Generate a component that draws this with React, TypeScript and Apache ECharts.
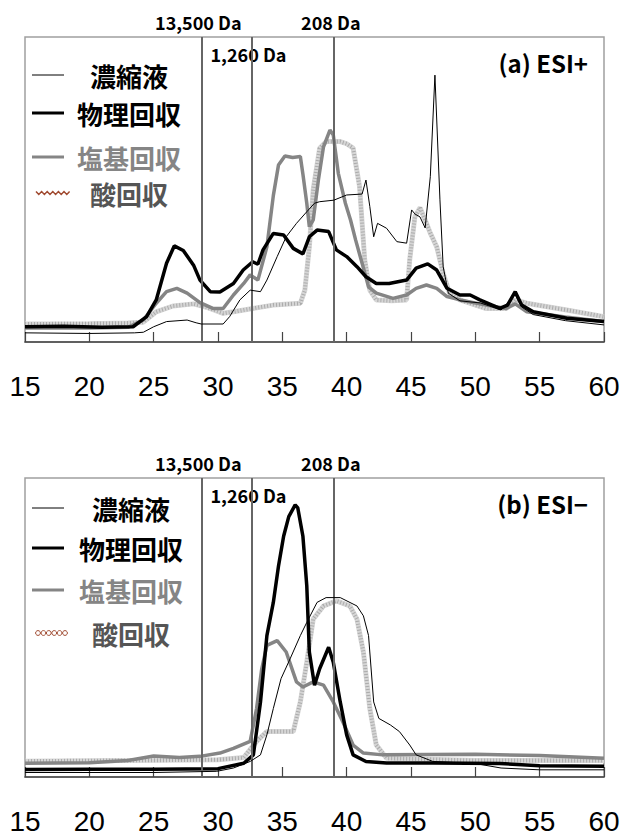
import React, { useEffect, useRef } from "react";
import * as echarts from "echarts";

const xMin = 15;
const xMax = 60;
const xStep = 5;

const seriesNames = ["濃縮液", "物理回収", "塩基回収", "酸回収"];
const panelTitles = ["(a) ESI+", "(b) ESI−"];
const markerXs = [28.7, 32.6, 39.0];
const markerLabels = ["13,500 Da", "1,260 Da", "208 Da"];

// ---- Panel (a) ESI+ ----
const topConc = [[15,3],[20,2.8],[23.5,3],[24.2,3.2],[25,5],[26,6.7],[27.6,7.2],[28.3,6.3],[28.7,5.9],[30.4,5.9],[30.9,8.3],[31.7,13.8],[32.5,17],[33.3,16.5],[33.8,20.3],[34.6,28],[35.3,34.5],[36.1,38.9],[36.9,42.7],[37.5,45.5],[37.9,46],[39,46.5],[40,48.2],[41.2,48.5],[41.5,53.1],[41.8,44.4],[42.1,34.5],[42.4,38.9],[43.1,37.3],[43.9,32.9],[44.66,32.4],[45.05,43.3],[45.3,42],[45.7,41],[46.1,37.4],[46.5,54.2],[46.86,87.5],[47.25,46.6],[47.5,24.7],[47.9,16],[48.8,13.5],[50.4,12.8],[52,10.5],[53.1,15.5],[53.6,11.5],[54.5,9],[57,7],[60,5.6]];
const topPhys = [[15,5],[18,5.2],[21,4.8],[23.4,5],[24.45,8.3],[25.2,13.8],[26,25.8],[26.6,31.5],[27.3,30],[28.1,25.2],[28.6,20.3],[29.4,16.5],[30.15,16.4],[31.2,19.2],[31.96,23.6],[32.7,26.3],[33.1,25.5],[33.5,30.2],[34.3,35.6],[35.1,35.1],[35.85,30.7],[36.6,28.9],[37.1,34.5],[37.7,36.7],[38.6,36.2],[39.2,30.2],[40,28],[40.8,24.7],[41.5,21.4],[42.3,19.2],[43.3,19.2],[44.66,20.3],[45.4,24.2],[46.3,25.6],[47,23.6],[47.8,17.6],[48.8,15.4],[49.6,15.4],[50.35,13.8],[51.9,11],[52.5,12.1],[53.1,16.5],[53.6,12.1],[54.5,9.9],[57.1,7.8],[60,6.7]];
const topBase = [[15,4.6],[20,4.6],[23,4.8],[24.2,7.2],[25.2,12.7],[26,16.5],[26.8,17.6],[27.6,16],[28.6,12.9],[29.6,11],[30.4,11],[31.2,15.4],[32,19.2],[32.5,22],[33.1,20.3],[33.8,31.2],[34.3,48],[34.7,58],[35.2,61],[35.8,60.5],[36.4,60.8],[36.6,55],[36.9,45.5],[37.1,37.8],[37.4,40],[37.8,53],[38.2,64],[38.7,69.5],[38.96,67.9],[39.35,55.3],[39.9,45.5],[40.3,40],[40.7,33.4],[41.2,25.8],[41.7,18.1],[42.3,16],[43.6,14.3],[44.66,15.4],[45.4,17.6],[46.2,18.7],[47,17.6],[47.8,14.9],[48.8,13.8],[50.85,12.1],[52.4,11],[53.1,12.5],[54,9.9],[57,8.2],[60,6.7]];
const topAcid = [[15,5.9],[20,6],[23,6.2],[24.2,6.5],[25.2,9.9],[26.5,11.8],[28.1,12.5],[29.1,11.4],[30.4,9.4],[31.2,9.9],[32.7,11],[34.3,12.1],[36.4,12.7],[36.75,17],[37.1,31.2],[37.4,50],[37.9,63.5],[38.4,65.7],[39.5,65.7],[40,65],[40.5,63.6],[41,51],[41.4,27],[41.8,17],[42.3,13.8],[43.5,13.5],[44.66,13.8],[44.9,27],[45.3,41],[45.7,44],[46.1,40],[46.5,35.7],[47,31.2],[47.5,22.5],[48,16],[48.8,13.8],[50.8,11],[52.4,11],[53.1,13.8],[54,12.7],[57.1,10.5],[60,8.3]];

// ---- Panel (b) ESI- ----
const botConc = [[15,1.5],[25,1.5],[29.9,1.9],[31.2,3],[32.5,5.2],[33.3,7.4],[33.8,14.1],[34.3,22.9],[34.9,32.9],[35.6,39.5],[36.4,47.3],[36.9,51.7],[37.7,58.4],[38.4,60],[39.5,60],[40.8,57.2],[41.3,53.9],[41.7,47.3],[42.1,25.1],[42.5,19.6],[43.4,17.4],[44.1,15.2],[44.9,10.7],[45.4,7.4],[46.7,5.2],[50,4.5],[52,3],[55,2.4],[60,2.4]];
const botPhys = [[15,2.5],[20,2.6],[25,2.6],[30,2.8],[32,4.6],[32.75,7.4],[33.3,25],[33.8,47.3],[34.3,58.4],[34.7,70.5],[35.1,80.5],[35.5,87.1],[36,91],[36.2,90],[36.6,80.5],[36.9,63.9],[37.1,41.8],[37.5,30.7],[37.9,36.2],[38.6,43.4],[38.96,38.4],[39.5,25.1],[40,14.1],[40.5,7.4],[41.5,5.2],[43.1,4.7],[46.7,4.7],[51.9,4.5],[55,3.8],[60,3.6]];
const botBase = [[15,4.6],[20,4.8],[23,5.5],[25,7],[27,6.5],[28.6,6.9],[30.15,8],[31.2,9.6],[32.5,11.9],[33,22.9],[33.4,36.2],[33.8,44],[34.6,45.6],[35.3,41.8],[36.1,31.8],[36.6,30.1],[37.4,31.8],[38.2,30.7],[38.96,25.1],[39.7,18.5],[40.5,10.7],[41.3,8],[42.8,7.4],[50,7.6],[55,7.2],[60,6.3]];
const botAcid = [[15,5.3],[25,5.6],[30,5.8],[32,6.5],[33,11.9],[33.8,15.2],[35.85,15.2],[36.4,25.1],[36.9,38.4],[37.4,52.8],[38.2,57.2],[39.2,58.9],[40.25,57.2],[40.8,52.8],[41.3,41.8],[41.8,22.9],[42.3,10.7],[43.1,6.3],[50,5.5],[60,5.5]];

const FONT = "'Noto Sans CJK JP', 'Noto Sans', sans-serif";
const NUM_FONT = "'Liberation Sans Narrow', 'Liberation Sans', sans-serif";

function panelSeries(gi: number, conc: number[][], phys: number[][], base: number[][], acid: number[][]) {
  const common = { type: "line", xAxisIndex: gi, yAxisIndex: gi, showSymbol: false, symbol: "none", smooth: false, silent: true };
  return [
    { ...common, name: seriesNames[3], data: acid, lineStyle: { color: "#d6d6d6", width: 5 }, z: 2 },
    { ...common, name: seriesNames[3] + "_t", data: acid, lineStyle: { color: "#ababab", width: 4, type: [1, 2] }, z: 2 },
    { ...common, name: seriesNames[2], data: base, lineStyle: { color: "#858585", width: 3.5 }, z: 3 },
    { ...common, name: seriesNames[1], data: phys, lineStyle: { color: "#000", width: 3.5 }, z: 4 },
    {
      ...common, name: seriesNames[0], data: conc, lineStyle: { color: "#000", width: 1 }, z: 5,
      markLine: {
        silent: true, symbol: "none", label: { show: false },
        lineStyle: { color: "#666", width: 2, type: "solid" },
        data: markerXs.map((x) => ({ xAxis: x })),
      },
    },
  ];
}

export default function App() {
  const ref = useRef<HTMLDivElement>(null);
  useEffect(() => {
    const chart = echarts.init(ref.current!, null, { renderer: "svg" });
    const grids = [
      { left: 25, width: 579, top: 37, height: 305 },
      { left: 25, width: 579, top: 478, height: 301 },
    ];
    const option: any = {
      animation: false,
      backgroundColor: "#fff",
      grid: grids.map((g) => ({ ...g, show: true, borderColor: "#a0a0a0", borderWidth: 1.5, containLabel: false })),
      xAxis: grids.map((_, gi) => ({
        type: "value", gridIndex: gi, min: xMin, max: xMax, interval: xStep,
        axisLine: { show: true, lineStyle: { color: "#444", width: 1.5 } },
        axisTick: { show: true, inside: true, length: 10, lineStyle: { color: "#444", width: 1.2 } },
        axisLabel: { show: true, color: "#000", fontSize: 28, lineHeight: 22, fontFamily: NUM_FONT, margin: 33 },
        splitLine: { show: false },
      })),
      yAxis: grids.map((_, gi) => ({ type: "value", gridIndex: gi, min: 0, max: 100, show: false, splitLine: { show: false } })),
      series: [
        ...panelSeries(0, topConc, topPhys, topBase, topAcid),
        ...panelSeries(1, botConc, botPhys, botBase, botAcid),
      ],
    };
    chart.setOption(option);

    const graphic: any[] = [];
    const legendColors = ["#000", "#000", "#858585", "#555"];
    const legendYs = [[75, 113, 157, 193], [508, 548, 590, 633]];
    const legendCx = [129, 131];
    legendYs.forEach((ys, gi) => {
      ys.forEach((y, i) => {
        graphic.push({
          type: "text", x: legendCx[gi], y,
          style: { text: seriesNames[i], font: `bold 26px ${FONT}`, fill: legendColors[i], textAlign: "center", textVerticalAlign: "middle" },
        });
        if (i < 3) {
          graphic.push({
            type: "line", shape: { x1: 32, y1: y, x2: 64, y2: y },
            style: { stroke: i === 2 ? "#858585" : "#000", lineWidth: i === 0 ? 1 : 3 },
          });
        } else if (gi === 0) {
          const pts: number[][] = [];
          for (let k = 0; k <= 12; k++) pts.push([36 + k * 2.8, y + (k % 2 === 0 ? -1.5 : 1.5)]);
          graphic.push({ type: "polyline", shape: { points: pts }, style: { stroke: "#a04a30", lineWidth: 1.5, fill: null } });
        } else {
          for (let k = 0; k < 6; k++) {
            graphic.push({ type: "circle", shape: { cx: 38 + k * 5.4, cy: y, r: 2.4 }, style: { stroke: "#a04a30", lineWidth: 1, fill: "#fff" } });
          }
        }
      });
    });
    // panel titles
    graphic.push({ type: "text", x: 588, y: 62, style: { text: panelTitles[0], font: `bold 24px ${FONT}`, fill: "#000", textAlign: "right", textVerticalAlign: "middle" } });
    graphic.push({ type: "text", x: 588, y: 503, style: { text: panelTitles[1], font: `bold 24px ${FONT}`, fill: "#000", textAlign: "right", textVerticalAlign: "middle" } });
    // marker labels
    grids.forEach((g, gi) => {
      markerXs.forEach((mx, i) => {
        const px = chart.convertToPixel({ xAxisIndex: gi }, mx) as number;
        const y = i === 1 ? g.top + 17 : g.top - 15;
        graphic.push({
          type: "text", x: px - 3, y,
          style: { text: markerLabels[i], font: `bold 18px ${FONT}`, fill: "#000", textAlign: "center", textVerticalAlign: "middle" },
        });
      });
    });
    chart.setOption({ graphic });
    return () => chart.dispose();
  }, []);
  return <div ref={ref} style={{ position: "fixed", left: 0, top: 0, width: 630, height: 835, background: "#fff" }} />;
}
